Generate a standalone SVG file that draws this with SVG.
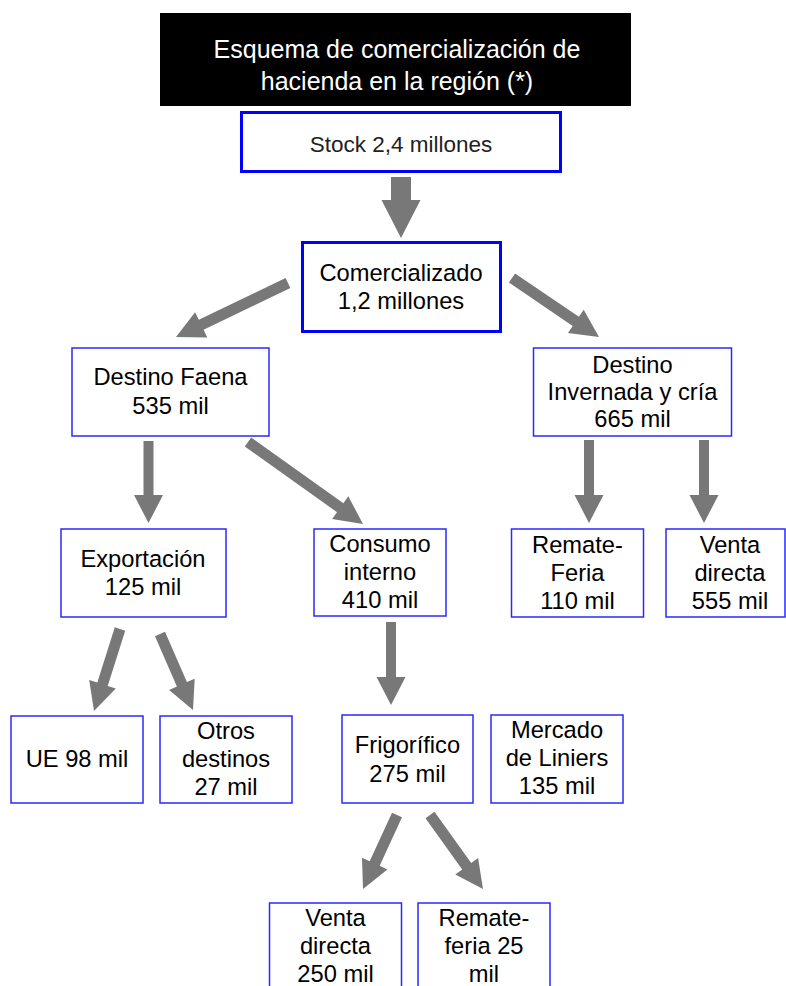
<svg xmlns="http://www.w3.org/2000/svg" width="786" height="986" viewBox="0 0 786 986">
<style>
text{font-family:"Liberation Sans",Arial,Helvetica,sans-serif;text-anchor:middle;fill:#000}
.t{font-size:25px;fill:#fff}
.n{font-size:23.7px}
.s{font-size:22.5px;fill:#222}
.thick{fill:#fff;stroke:#0000ff;stroke-width:3}
.thin{fill:#fff;stroke:#2a2aff;stroke-width:1.5}
.arr{fill:#787878;stroke:none}
</style>
<rect x="0" y="0" width="786" height="986" fill="#fff"/>
<g id="title">
<rect x="160" y="13" width="471" height="93" fill="#000"/>
<text class="t" x="397" y="58">Esquema de comercialización de</text>
<text class="t" x="397" y="90">hacienda en la región (*)</text>
</g>
<g id="stock">
<rect class="thick" x="241.5" y="112.5" width="319" height="59"/>
<text class="s" x="401" y="152">Stock 2,4 millones</text>
</g>
<g id="comercializado">
<rect class="thick" x="302.5" y="242.5" width="198" height="89"/>
<text class="n" x="401" y="281">Comercializado</text>
<text class="n" x="401" y="309">1,2 millones</text>
</g>
<g id="faena">
<rect class="thin" x="72" y="348" width="197" height="88"/>
<text class="n" x="170.5" y="385">Destino Faena</text>
<text class="n" x="170.5" y="414">535 mil</text>
</g>
<g id="invernada">
<rect class="thin" x="533.5" y="348" width="198" height="88"/>
<text class="n" x="632.5" y="373">Destino</text>
<text class="n" x="632.5" y="400">Invernada y cría</text>
<text class="n" x="632.5" y="427">665 mil</text>
</g>
<g id="exportacion">
<rect class="thin" x="61" y="529" width="165" height="88"/>
<text class="n" x="143" y="567">Exportación</text>
<text class="n" x="143" y="595">125 mil</text>
</g>
<g id="consumo">
<rect class="thin" x="314" y="529" width="132" height="87"/>
<text class="n" x="380" y="552">Consumo</text>
<text class="n" x="380" y="580">interno</text>
<text class="n" x="380" y="608">410 mil</text>
</g>
<g id="remate-feria">
<rect class="thin" x="511.5" y="529" width="132" height="88"/>
<text class="n" x="577.5" y="553">Remate-</text>
<text class="n" x="577.5" y="581">Feria</text>
<text class="n" x="577.5" y="609">110 mil</text>
</g>
<g id="venta-directa-1">
<rect class="thin" x="666" y="529" width="119" height="88"/>
<text class="n" x="730" y="553">Venta</text>
<text class="n" x="730" y="581">directa</text>
<text class="n" x="730" y="609">555 mil</text>
</g>
<g id="ue">
<rect class="thin" x="11" y="716" width="132" height="87"/>
<text class="n" x="77" y="767">UE 98 mil</text>
</g>
<g id="otros">
<rect class="thin" x="160" y="716" width="132" height="87"/>
<text class="n" x="226" y="739">Otros</text>
<text class="n" x="226" y="767">destinos</text>
<text class="n" x="226" y="795">27 mil</text>
</g>
<g id="frigorifico">
<rect class="thin" x="342" y="715" width="131" height="88"/>
<text class="n" x="407.5" y="753">Frigorífico</text>
<text class="n" x="407.5" y="782">275 mil</text>
</g>
<g id="liniers">
<rect class="thin" x="491" y="715" width="132" height="88"/>
<text class="n" x="557" y="738">Mercado</text>
<text class="n" x="557" y="766">de Liniers</text>
<text class="n" x="557" y="794">135 mil</text>
</g>
<g id="venta-directa-2">
<rect class="thin" x="269.5" y="903" width="132" height="95"/>
<text class="n" x="335.5" y="926">Venta</text>
<text class="n" x="335.5" y="954">directa</text>
<text class="n" x="335.5" y="982">250 mil</text>
</g>
<g id="remate-feria-2">
<rect class="thin" x="418" y="903" width="132" height="95"/>
<text class="n" x="484" y="926">Remate-</text>
<text class="n" x="484" y="954">feria 25</text>
<text class="n" x="484" y="982">mil</text>
</g>
<g id="connectors">
<polygon class="arr" points="391,177 411,177 411,200 420.5,200 401,238 381.5,200 391,200"/>
<polygon class="arr" points="285.6,278 198.8,319.8 195.1,312.2 176,337 207.3,337.4 203.6,329.8 290.4,288"/>
<polygon class="arr" points="515.1,273.5 578.9,316.8 583.7,309.7 599,337 568,332.9 572.7,325.9 508.9,282.6"/>
<polygon class="arr" points="143.5,441 153.5,441 153.5,495 163,495 148.5,523 134,495 143.5,495"/>
<polygon class="arr" points="251.2,437.5 343.4,503.2 348.3,496.3 363,524 332.1,519.1 337,512.2 244.8,446.5"/>
<polygon class="arr" points="584,440 594,440 594,495 603.5,495 589,523 574.5,495 584,495"/>
<polygon class="arr" points="699,440 709,440 709,495 718.5,495 704,523 689.5,495 699,495"/>
<polygon class="arr" points="114.8,627.3 97.3,682.6 89.2,680.1 94,711 115.8,688.5 107.7,686 125.2,630.7"/>
<polygon class="arr" points="155,636.2 176.9,686.5 169.1,689.9 193,710 194.7,678.7 186.9,682.1 165,631.8"/>
<polygon class="arr" points="386,622 396,622 396,677 405.5,677 391,705 376.5,677 386,677"/>
<polygon class="arr" points="392,812.7 369.7,861.2 362,857.7 363,889 387.4,869.4 379.7,865.8 402,817.3"/>
<polygon class="arr" points="425.5,818.2 462.2,869.4 455.3,874.4 483,889 478.1,858.1 471.2,863 434.5,811.8"/>
</g>
</svg>
